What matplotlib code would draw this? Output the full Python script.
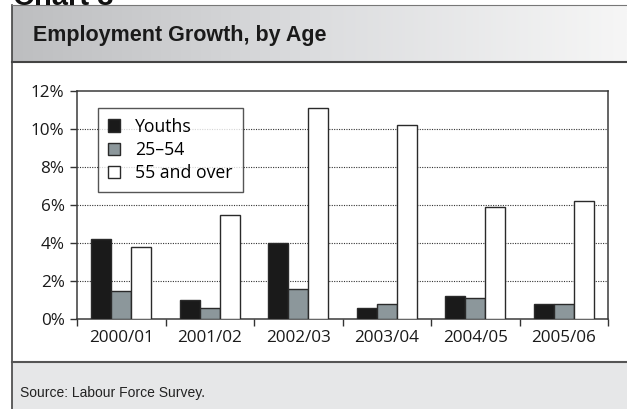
import numpy as np
import matplotlib
matplotlib.use("Agg")
import matplotlib.pyplot as plt
from matplotlib.patches import Rectangle
from matplotlib.lines import Line2D

# Data
periods = ["2000/01", "2001/02", "2002/03", "2003/04", "2004/05", "2005/06"]
youths = [4.2, 1.0, 4.0, 0.6, 1.2, 0.8]
core_age = [1.5, 0.6, 1.6, 0.8, 1.1, 0.8]
older = [3.8, 5.5, 11.1, 10.2, 5.9, 6.2]
series_names = ["Youths", "25\u201354", "55 and over"]
y_ticks = [0, 2, 4, 6, 8, 10, 12]
y_tick_labels = ["0%", "2%", "4%", "6%", "8%", "10%", "12%"]

W, H = 627, 409
fig = plt.figure(figsize=(W / 100, H / 100), dpi=100)
fig.patch.set_facecolor("white")


def fx(px):
    return px / W


def fy(py):
    return 1 - py / H


# Header band with horizontal gradient
hdr = fig.add_axes([fx(12), fy(62), fx(627 - 12), (62 - 5) / H])
grad = np.linspace(0, 1, 256).reshape(1, -1)
cmap = matplotlib.colors.LinearSegmentedColormap.from_list(
    "hdr", ["#bdbec0", "#dcdddf", "#f6f6f6"])
hdr.imshow(grad, aspect="auto", cmap=cmap, extent=[0, 1, 0, 1])
hdr.set_xlim(0, 1)
hdr.set_ylim(0, 1)
hdr.axis("off")

# Footer band
ftr = fig.add_axes([fx(12), 0, fx(627 - 12), (409 - 362) / H])
ftr.add_patch(Rectangle((0, 0), 1, 1, color="#e6e7e8"))
ftr.set_xlim(0, 1)
ftr.set_ylim(0, 1)
ftr.axis("off")

# Frame lines
fig.add_artist(Line2D([fx(12), fx(12)], [fy(5), 0], color="#444444", lw=1.2))
fig.add_artist(Line2D([fx(12), 1], [fy(5), fy(5)], color="#777777", lw=0.8))
fig.add_artist(Line2D([fx(12), 1], [fy(62), fy(62)], color="#444444", lw=1.5))
fig.add_artist(Line2D([fx(12), 1], [fy(362), fy(362)], color="#555555", lw=1.5))

# Texts
fig.text(fx(13), fy(5), "Chart 3", fontsize=21, fontweight="bold",
         family="Liberation Sans", va="baseline", ha="left", color="#111111")
fig.text(fx(33), fy(41.5), "Employment Growth, by Age", fontsize=15.5,
         fontweight="bold", family="Liberation Sans", va="baseline",
         ha="left", color="#1a1a1a")
fig.text(fx(20), fy(396.5), "Source: Labour Force Survey.", fontsize=10,
         family="Liberation Sans", va="baseline", ha="left", color="#222222")

# Chart
ax = fig.add_axes([fx(77), fy(319), fx(608 - 77), (319 - 91) / H])
x = np.arange(len(periods))
bw = 0.226
colors = ["#1a1a1a", "#8c979b", "#ffffff"]
for i, (vals, c, name) in enumerate(zip([youths, core_age, older], colors,
                                        series_names)):
    ax.bar(x + (i - 1) * bw, vals, bw, color=c, edgecolor="#2a2a2a",
           linewidth=1.0, label=name, zorder=3)

ax.set_xlim(-0.5, len(periods) - 0.5)
ax.set_ylim(0, 12)
ax.set_yticks(y_ticks)
ax.set_yticklabels(y_tick_labels)
for v in y_ticks[1:-1]:
    ax.axhline(v, color="#333333", lw=0.8, ls=(0, (1, 1.2)), zorder=1)

ax.set_xticks(x)
ax.set_xticklabels(periods)
ax.tick_params(axis="x", length=0, pad=8)
ax.set_xticks(np.arange(len(periods) + 1) - 0.5, minor=True)
ax.tick_params(axis="x", which="minor", length=5, direction="out",
               color="#333333", width=1.0)
ax.tick_params(axis="y", length=5, direction="out", color="#333333",
               width=1.0, pad=4)
for lbl in ax.get_xticklabels() + ax.get_yticklabels():
    lbl.set_family("Open Sans")
    lbl.set_fontsize(12.3)
    lbl.set_color("#1a1a1a")
for s in ax.spines.values():
    s.set_color("#3a3a3a")
    s.set_linewidth(1.1)

leg = ax.legend(loc="upper left", bbox_to_anchor=((98 - 77) / 531, (319 - 108) / 228),
                borderaxespad=0, frameon=True, fancybox=False,
                prop={"family": "Open Sans", "size": 12.7},
                handlelength=0.72, handleheight=0.72, handletextpad=0.85,
                labelspacing=0.3, borderpad=0.55)
leg.get_frame().set_edgecolor("#2a2a2a")
leg.get_frame().set_linewidth(1.0)
leg.set_zorder(5)

fig.savefig("out.png", dpi=100)
